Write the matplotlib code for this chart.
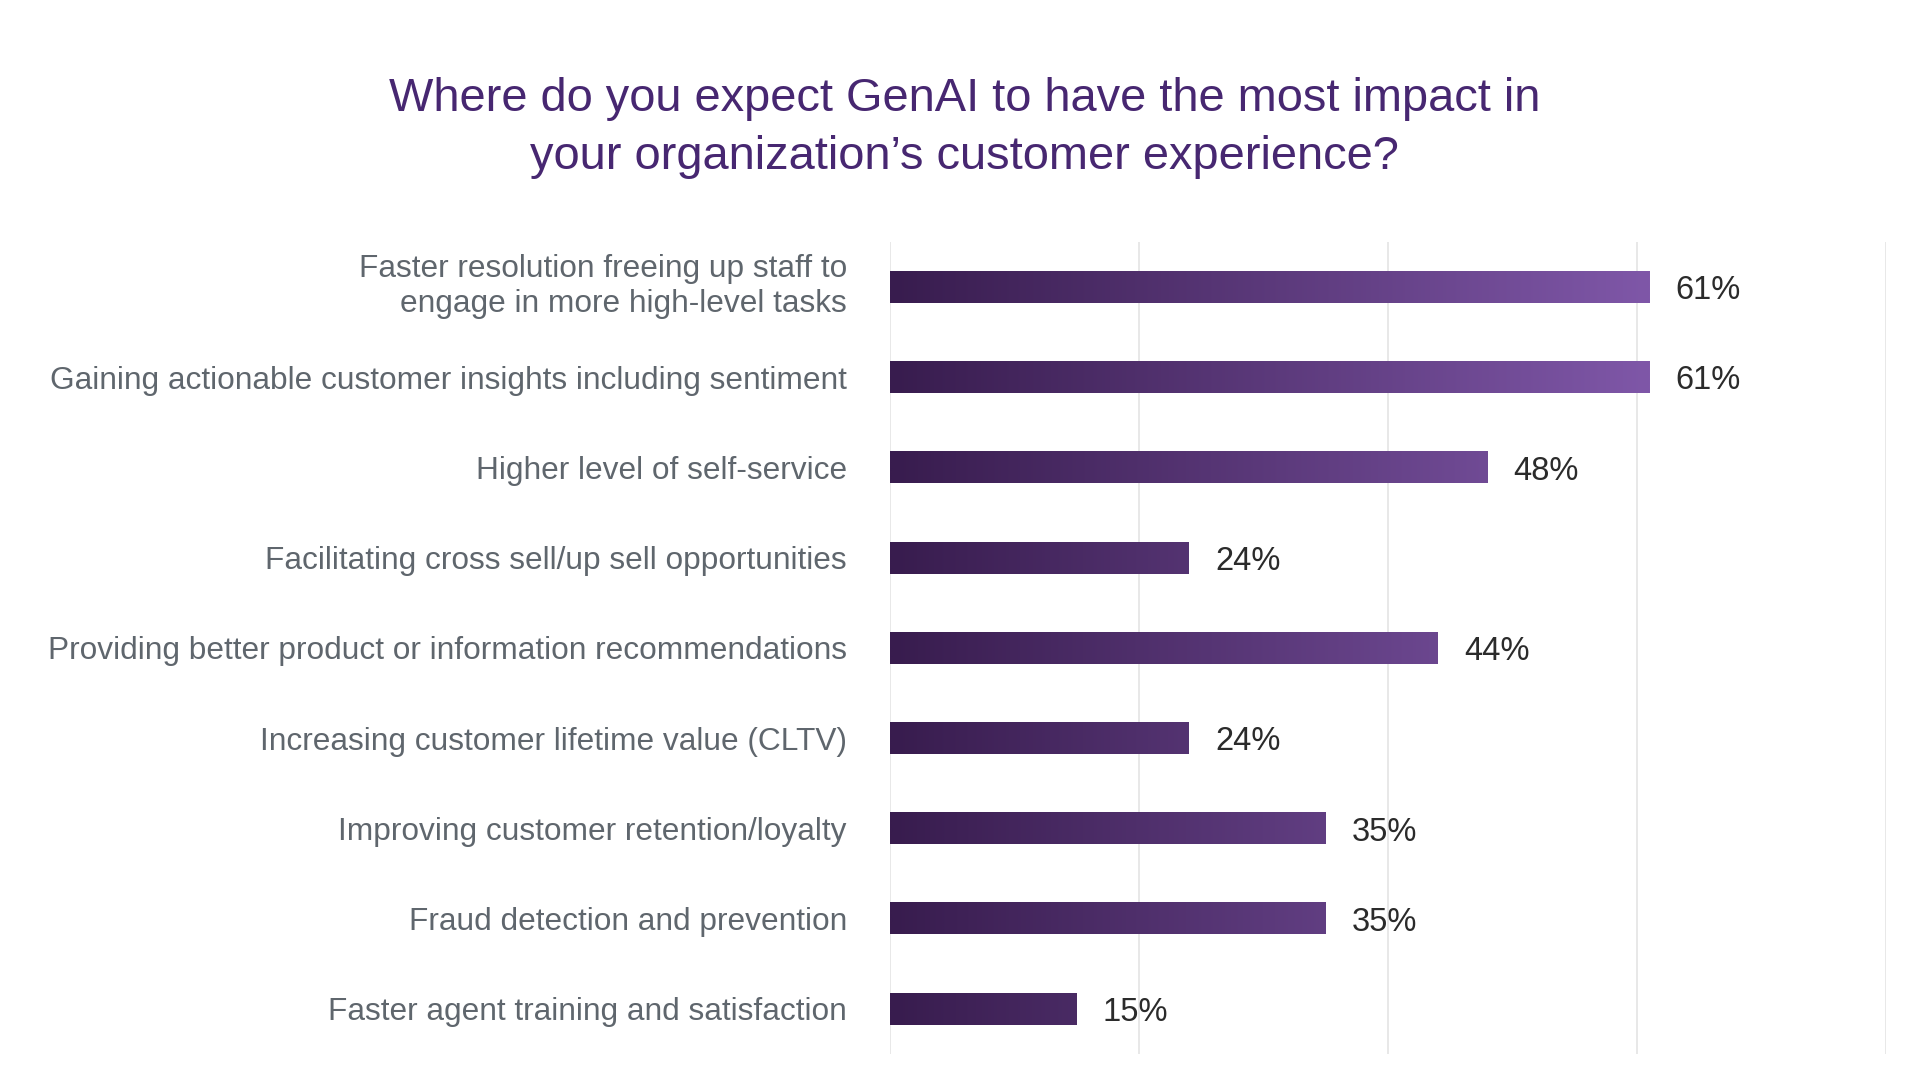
import numpy as np
import matplotlib
matplotlib.use("Agg")
import matplotlib.pyplot as plt
from matplotlib.colors import LinearSegmentedColormap
import matplotlib.transforms as mtransforms

categories = [
    "Faster resolution freeing up staff to\nengage in more high-level tasks",
    "Gaining actionable customer insights including sentiment",
    "Higher level of self-service",
    "Facilitating cross sell/up sell opportunities",
    "Providing better product or information recommendations",
    "Increasing customer lifetime value (CLTV)",
    "Improving customer retention/loyalty",
    "Fraud detection and prevention",
    "Faster agent training and satisfaction",
]
values = [61, 61, 48, 24, 44, 24, 35, 35, 15]
value_labels = ["61%", "61%", "48%", "24%", "44%", "24%", "35%", "35%", "15%"]
xticks = [0, 20, 40, 60, 80]
title = "Where do you expect GenAI to have the most impact in\nyour organization\u2019s customer experience?"

plt.rcParams['font.family'] = ['Liberation Sans', 'DejaVu Sans']

fig = plt.figure(figsize=(19.2, 10.8), dpi=100)
ax = fig.add_axes([890/1920, 1-1054/1080, (1886-890)/1920, (1054-242)/1080])

cmap = LinearSegmentedColormap.from_list("g", ["#381c4e", "#7f57a8"])
grad_max = 61.0
bar_h = 0.35
for i, v in enumerate(values):
    n = 256
    data = np.linspace(0, v / grad_max, n).reshape(1, n)
    ax.imshow(data, cmap=cmap, vmin=0, vmax=1, aspect='auto',
              extent=(0, v, i + bar_h/2, i - bar_h/2), interpolation='bilinear', zorder=3)
    ax.text(v + 2.1, i + 0.04, value_labels[i], ha='left', va='center',
            fontsize=23.5, color='#2b2b2b', zorder=4)

ax.set_xlim(0, 80)
ax.set_ylim(len(values) - 0.5, -0.5)
ax.set_xticks(xticks)
ax.set_xticklabels([])
ax.tick_params(axis='x', length=0)
ax.xaxis.grid(True, color='#e6e6e6', linewidth=1.3, zorder=0)
ax.set_axisbelow(True)
ax.set_yticks(range(len(categories)))
ax.set_yticklabels(categories, fontsize=22.8, color='#5f666d', linespacing=1.22)
ax.tick_params(axis='y', length=0, pad=31)
for s in ax.spines.values():
    s.set_visible(False)
# nudge the two-line label slightly upward
first = ax.get_yticklabels()[0]
first.set_transform(first.get_transform() +
                    mtransforms.ScaledTranslation(0, 7/100, fig.dpi_scale_trans))

fig.text(0.5025, 1 - 128/1080, title, ha='center', va='center', fontsize=33.8,
         color='#472771', linespacing=1.42)

fig.savefig("out.png", dpi=100, facecolor='white')
